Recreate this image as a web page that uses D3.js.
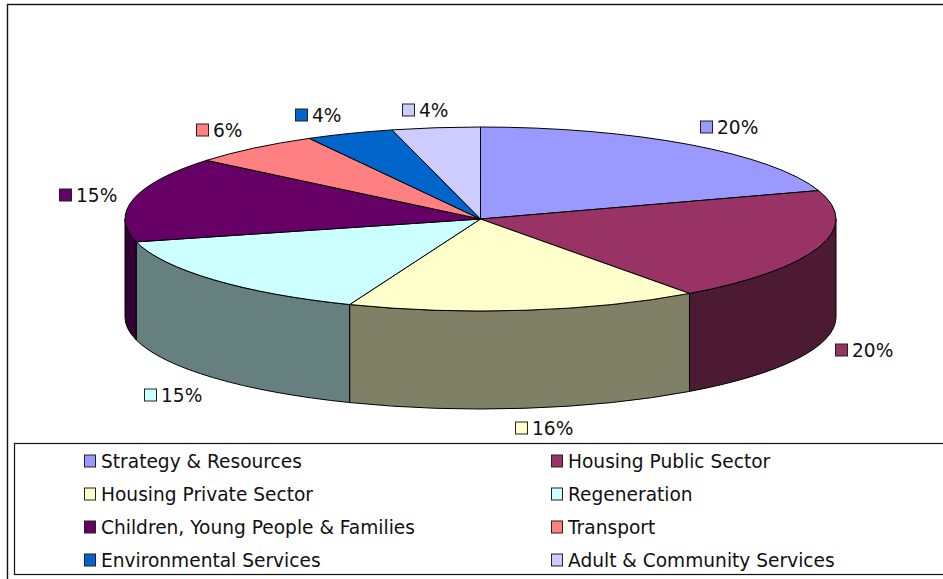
<!DOCTYPE html>
<html>
<head>
<meta charset="utf-8">
<script src="https://cdn.jsdelivr.net/npm/d3@7"></script>
<style>
  html, body { margin: 0; padding: 0; background: #fff; overflow: hidden; }
  svg { display: block; }
  text { font-family: "DejaVu Sans", Verdana, sans-serif; fill: #111; }
</style>
</head>
<body>
<svg id="chart" width="943" height="579"></svg>
<script>
// Budget share by service area
const categories = [
  "Strategy & Resources", "Housing Public Sector", "Housing Private Sector", "Regeneration",
  "Children, Young People & Families", "Transport", "Environmental Services", "Adult & Community Services"
];
const shares = [20, 20, 16, 15, 15, 6, 4, 4];
const topColors = ["#9999ff", "#993366", "#ffffcc", "#ccffff", "#660066", "#ff8080", "#0066cc", "#ccccff"];
const wallColors = ["#4d4d80", "#4d1a33", "#808066", "#668080", "#330033", "#804040", "#003366", "#666680"];

// Data-label placement relative to the rim point at each slice's mid angle
const labelOffsets = [[11, -18], [16, 103], [-10, 118], [-70, 115], [-75, -4], [-58, -18], [-55, -18], [-34, -18]];

const W = 943, H = 579;
const cx = 480.5, cy = 219, rx = 355.5, ry = 92, depth = 98;
const squash = ry / rx;
const svg = d3.select("#chart");

// Outer chart frame and legend box both run off the right edge
svg.append("rect").attr("x", 7.5).attr("y", 4.5).attr("width", W).attr("height", H + 10)
  .attr("fill", "#fff").attr("stroke", "#111").attr("stroke-width", 1.4);

const slices = d3.pie().value(d => d).sort(null)(shares);
const pieGroup = svg.append("g").attr("transform", `translate(${cx},${cy}) scale(1,${squash})`);

// Wall of a slice: only the part facing the viewer, between 90 and 270 degrees from the top
function wallPath(s) {
  const a0 = Math.max(s.startAngle, Math.PI / 2), a1 = Math.min(s.endAngle, 3 * Math.PI / 2);
  if (a0 >= a1) return null;
  const p = d3.path(), drop = depth / squash;
  p.arc(0, 0, rx, a0 - Math.PI / 2, a1 - Math.PI / 2);
  p.lineTo(rx * Math.sin(a1), -rx * Math.cos(a1) + drop);
  p.arc(0, drop, rx, a1 - Math.PI / 2, a0 - Math.PI / 2, true);
  p.closePath();
  return p.toString();
}

pieGroup.selectAll("path.wall")
  .data(slices.filter(s => wallPath(s)))
  .join("path")
  .attr("class", "wall")
  .attr("d", wallPath)
  .attr("fill", s => wallColors[s.index])
  .attr("stroke", "#000").attr("stroke-width", 1)
  .attr("vector-effect", "non-scaling-stroke");

const arc = d3.arc().innerRadius(0).outerRadius(rx);
pieGroup.selectAll("path.top")
  .data(slices)
  .join("path")
  .attr("class", "top")
  .attr("d", arc)
  .attr("fill", s => topColors[s.index])
  .attr("stroke", "#000").attr("stroke-width", 1)
  .attr("vector-effect", "non-scaling-stroke");

// Data labels: colour key followed by the percentage
const labels = svg.append("g").selectAll("g")
  .data(slices)
  .join("g")
  .attr("transform", s => {
    const mid = (s.startAngle + s.endAngle) / 2;
    const x = cx + rx * Math.sin(mid) + labelOffsets[s.index][0];
    const y = cy - ry * Math.cos(mid) + labelOffsets[s.index][1];
    return `translate(${Math.round(x) + 0.5},${Math.round(y)})`;
  });
labels.append("rect").attr("x", 0).attr("y", -6).attr("width", 12).attr("height", 12)
  .attr("fill", s => topColors[s.index]).attr("stroke", "#222").attr("stroke-width", 1);
labels.append("text").attr("x", 16.5).attr("y", 6.5).attr("font-size", 18.6)
  .text(s => d3.format(".0f")(s.value) + "%");

// Legend box with two columns of four rows
svg.append("rect").attr("x", 14.5).attr("y", 443.5).attr("width", W).attr("height", 131)
  .attr("fill", "#fff").attr("stroke", "#111").attr("stroke-width", 1.2);

const colX = d3.scalePoint().domain([0, 1]).range([84.5, 551.5]);
const rowY = d3.scalePoint().domain([0, 1, 2, 3]).range([461, 560]);
const legend = svg.append("g").selectAll("g")
  .data(categories)
  .join("g")
  .attr("transform", (d, i) => `translate(${colX(i % 2)},${rowY(Math.floor(i / 2))})`);
legend.append("rect").attr("x", 0).attr("y", -6).attr("width", 11).attr("height", 12)
  .attr("fill", (d, i) => topColors[i]).attr("stroke", "#222").attr("stroke-width", 1);
legend.append("text").attr("x", 16.5).attr("y", 6.5).attr("font-size", 18.6).text(d => d);
</script>
</body>
</html>
